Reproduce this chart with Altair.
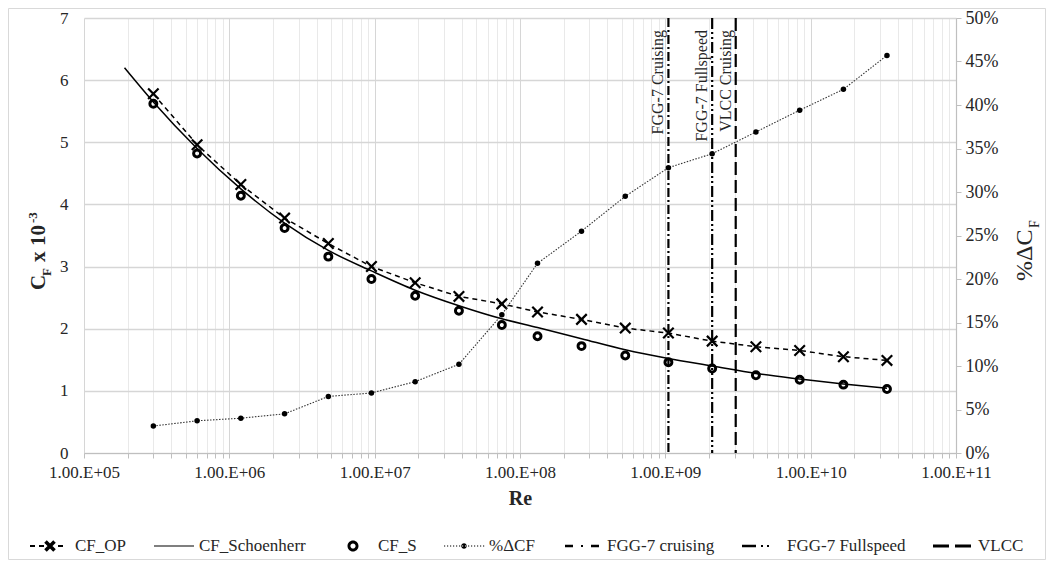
import altair as alt
import pandas as pd

# ---------------- data ----------------
re_pts = [3.0e5, 6.0e5, 1.2e6, 2.4e6, 4.8e6, 9.5e6, 1.9e7, 3.8e7, 7.5e7,
          1.32e8, 2.65e8, 5.3e8, 1.05e9, 2.1e9, 4.2e9, 8.4e9, 1.68e10, 3.35e10]
cf_op = [5.78, 4.96, 4.32, 3.78, 3.37, 3.00, 2.74, 2.52, 2.40,
         2.27, 2.15, 2.01, 1.93, 1.80, 1.71, 1.65, 1.55, 1.49]
cf_s = [5.62, 4.82, 4.14, 3.62, 3.16, 2.80, 2.53, 2.29, 2.06,
        1.88, 1.72, 1.57, 1.46, 1.36, 1.25, 1.18, 1.10, 1.03]
pct_dcf = [3.1, 3.7, 4.0, 4.5, 6.5, 6.9, 8.2, 10.2, 15.9,
           21.8, 25.5, 29.5, 32.8, 34.4, 36.9, 39.4, 41.8, 45.7]
re_sch = [1.9e5, 3.0e5, 6.0e5, 1.2e6, 2.4e6, 4.8e6, 9.5e6, 1.9e7, 3.8e7, 7.5e7,
          1.32e8, 2.65e8, 5.3e8, 1.05e9, 2.1e9, 4.2e9, 8.4e9, 1.68e10, 3.35e10]
cf_sch = [6.20, 5.65, 4.90, 4.25, 3.70, 3.26, 2.93, 2.62, 2.37, 2.16,
          2.02, 1.84, 1.66, 1.52, 1.40, 1.28, 1.19, 1.11, 1.04]
marker_names = ["FGG-7 Cruising", "FGG-7 Fullspeed", "VLCC Cruising"]
marker_re = [1.05e9, 2.1e9, 3.05e9]
legend_names = ["CF_OP", "CF_Schoenherr", "CF_S", "%ΔCF",
                "FGG-7 cruising", "FGG-7 Fullspeed", "VLCC"]
x_major = [1e5, 1e6, 1e7, 1e8, 1e9, 1e10, 1e11]
y_left_ticks = [0, 1, 2, 3, 4, 5, 6, 7]
y_right_ticks = [0, 5, 10, 15, 20, 25, 30, 35, 40, 45, 50]

# ---------------- styling ----------------
FONT = "Liberation Serif"
W, H = 872, 435
GRID = "#d6d6d6"
MINOR = "#e9e9e9"
AXC = "#bfbfbf"
TXT = "#262626"

x_ticks = sorted(set(x_major + [m * d for d in x_major[:-1] for m in range(2, 10)]))
is_major = "abs(log(datum.value)/LN10 - round(log(datum.value)/LN10)) < 0.001"
exp_s = "round(log(datum.value)/LN10)"
x_label_expr = f"{is_major} ? ('1.00.E+' + ({exp_s} < 10 ? '0' : '') + {exp_s}) : ''"

x_scale = alt.Scale(type="log", domain=[1e5, 1e11], nice=False)
x_axis = alt.Axis(values=x_ticks, labelExpr=x_label_expr, labelOverlap=False,
                  labelFlush=False, grid=True,
                  gridColor={"condition": {"test": is_major, "value": GRID}, "value": MINOR},
                  gridWidth=1, domainColor=AXC, domainWidth=1.2, tickColor=AXC,
                  tickSize=5, labelPadding=6, title="Re", titleFontSize=20,
                  titleFontWeight="bold", titlePadding=8)


def X(field):
    return alt.X(f"{field}:Q", scale=x_scale, axis=x_axis)


y_left_scale = alt.Scale(domain=[0, 7], nice=False)
y_left_axis = alt.Axis(values=y_left_ticks, grid=True, gridColor=GRID, gridWidth=1.3,
                       domain=False, ticks=False, labelPadding=16, title=None)


def YL(field):
    return alt.Y(f"{field}:Q", scale=y_left_scale, axis=y_left_axis)


df_pts = pd.DataFrame({"Re": re_pts, "CF_OP": cf_op, "CF_S": cf_s, "dCF": pct_dcf})
df_sch = pd.DataFrame({"Re": re_sch, "CF": cf_sch})
X_SHAPE = "M-1,-1L1,1M-1,1L1,-1"

op_line = alt.Chart(df_pts).mark_line(color="black", strokeWidth=1.5, strokeDash=[5, 4]).encode(
    x=X("Re"), y=YL("CF_OP"))
op_pts = alt.Chart(df_pts).mark_point(shape=X_SHAPE, size=110, color="black", strokeWidth=2.2,
                                      opacity=1).encode(x=X("Re"), y=YL("CF_OP"))
sch_line = alt.Chart(df_sch).mark_line(color="black", strokeWidth=1.5,
                                       interpolate="monotone").encode(x=X("Re"), y=YL("CF"))
s_pts = alt.Chart(df_pts).mark_point(shape="circle", size=48, color="black", strokeWidth=3,
                                     filled=False, opacity=1).encode(x=X("Re"), y=YL("CF_S"))

rule_dashes = [[9, 3, 2, 3], [11, 3, 2, 3, 2, 3], [13, 5]]
rules = []
labels = []
for nm, rv, dash in zip(marker_names, marker_re, rule_dashes):
    d = pd.DataFrame({"Re": [rv], "name": [nm]})
    rules.append(alt.Chart(d).mark_rule(color="black", strokeWidth=2.2, strokeDash=dash)
                 .encode(x=X("Re")))
    labels.append(alt.Chart(d).mark_text(angle=270, align="right", baseline="alphabetic",
                                         font=FONT, fontSize=16, color=TXT, dy=-5)
                  .encode(x=X("Re"), y=alt.value(12), text="name:N"))


# ---------- legend symbols (filled custom paths, unit = 1/20 px) ----------
def _n(v):
    return f"{round(v / 20, 4)}"


def rect(x1, x2, h):
    return f"M{_n(x1)},{_n(-h)}L{_n(x2)},{_n(-h)}L{_n(x2)},{_n(h)}L{_n(x1)},{_n(h)}Z"


def ring(cx, r, sweep):
    return (f"M{_n(cx - r)},0A{_n(r)},{_n(r)} 0 1,{sweep} {_n(cx + r)},0"
            f"A{_n(r)},{_n(r)} 0 1,{sweep} {_n(cx - r)},0Z")


def xmark(a, t):
    k = t / 2 ** 0.5
    p1 = [(-a + k, -a - k), (a + k, a - k), (a - k, a + k), (-a - k, -a + k)]
    p2 = [(-a - k, a - k), (a - k, -a - k), (a + k, -a + k), (-a + k, a + k)]
    out = ""
    for poly in (p1, p2):
        out += "M" + "L".join(f"{_n(px)},{_n(py)}" for px, py in poly) + "Z"
    return out


dots = "".join(rect(x, x + 1.2, 0.5) for x in range(-20, 20, 3))
legend_paths = [
    rect(-20, -15, 0.9) + rect(-11, -6, 0.9) + xmark(4.5, 1.8) + rect(8, 13, 0.9),
    rect(-20, 20, 0.6),
    ring(0, 5.5, 0) + ring(0, 2.6, 1),
    dots + ring(0, 2.8, 0),
    rect(-17, -9, 1.2) + rect(-1, 1, 0.9) + rect(9, 17, 1.2),
    rect(-20, -6, 1.3) + rect(-1, 1, 0.9) + rect(5, 7, 0.9),
    rect(-20, -4, 1.5) + rect(2, 18, 1.5),
]

df_leg = pd.DataFrame({"series": legend_names, "Re": [re_pts[0]] * len(legend_names),
                       "CF": [cf_s[0]] * len(legend_names)})
legend_layer = alt.Chart(df_leg).mark_point(filled=True, color="black", opacity=0).encode(
    x=X("Re"), y=YL("CF"),
    shape=alt.Shape("series:N", scale=alt.Scale(domain=legend_names, range=legend_paths),
                    legend=alt.Legend(orient="none", legendX=-54, legendY=508,
                                      direction="horizontal", columns=7, title=None,
                                      symbolSize=1600, symbolStrokeWidth=0,
                                      symbolStrokeColor="black", symbolFillColor="black",
                                      symbolOpacity=1, labelFont=FONT, labelFontSize=17,
                                      labelColor=TXT, labelOffset=5, columnPadding=27,
                                      labelLimit=300)))


# ---------- composite axis titles (sub/superscripts) ----------
def piece(text, px, py, size, bold):
    d = pd.DataFrame({"t": [text]})
    return alt.Chart(d).mark_text(angle=270, align="left", baseline="alphabetic", font=FONT,
                                  fontSize=size, fontWeight="bold" if bold else "normal",
                                  color=TXT).encode(
        x=alt.value(px), y=alt.value(py), text="t:N")


title_pieces = [
    piece("C", -39, 272, 21, True),
    piece("F", -33, 258, 13, True),
    piece("x", -39, 244, 21, True),
    piece("10", -39, 228, 21, True),
    piece("-3", -47, 205, 13, True),
    piece("%ΔC", 948, 263, 24, False),
    piece("F", 955, 210, 14, False),
]

border = alt.Chart(pd.DataFrame({"b": [0]})).mark_rect(
    fillOpacity=0, stroke="#d9d9d9", strokeWidth=1).encode(
    x=alt.value(-75.5), x2=alt.value(961.5), y=alt.value(-9.5), y2=alt.value(541.5))

left = alt.layer(border, sch_line, op_line, op_pts, s_pts, *rules, *labels,
                 legend_layer, *title_pieces)

y_right = alt.Y("dCF:Q", scale=alt.Scale(domain=[0, 50], nice=False),
                axis=alt.Axis(orient="right", values=y_right_ticks,
                              labelExpr="datum.value + '%'", grid=False, domain=True,
                              domainColor=AXC, domainWidth=1.2, ticks=True, tickColor=AXC,
                              tickSize=5, labelPadding=4, title=None, labelFontSize=18))
dcf_line = alt.Chart(df_pts).mark_line(color="#333333", strokeWidth=1.1,
                                       strokeDash=[1.5, 1.5]).encode(x=X("Re"), y=y_right)
dcf_pts = alt.Chart(df_pts).mark_circle(size=30, color="black", opacity=1).encode(
    x=X("Re"), y=y_right)
right = alt.layer(dcf_line, dcf_pts)

chart = alt.layer(left, right).resolve_scale(y="independent").properties(
    width=W, height=H,
    padding={"left": 76, "top": 10, "right": 90, "bottom": 107},
    autosize=alt.AutoSizeParams(type="none"),
    background="white",
).configure(font=FONT).configure_view(strokeWidth=0).configure_axis(
    labelFont=FONT, titleFont=FONT, labelFontSize=17, labelColor=TXT, titleColor=TXT
).configure_legend(labelFont=FONT, labelFontSize=17, labelColor=TXT)

chart.save("out.html", embed_options={"renderer": "svg", "actions": False})
